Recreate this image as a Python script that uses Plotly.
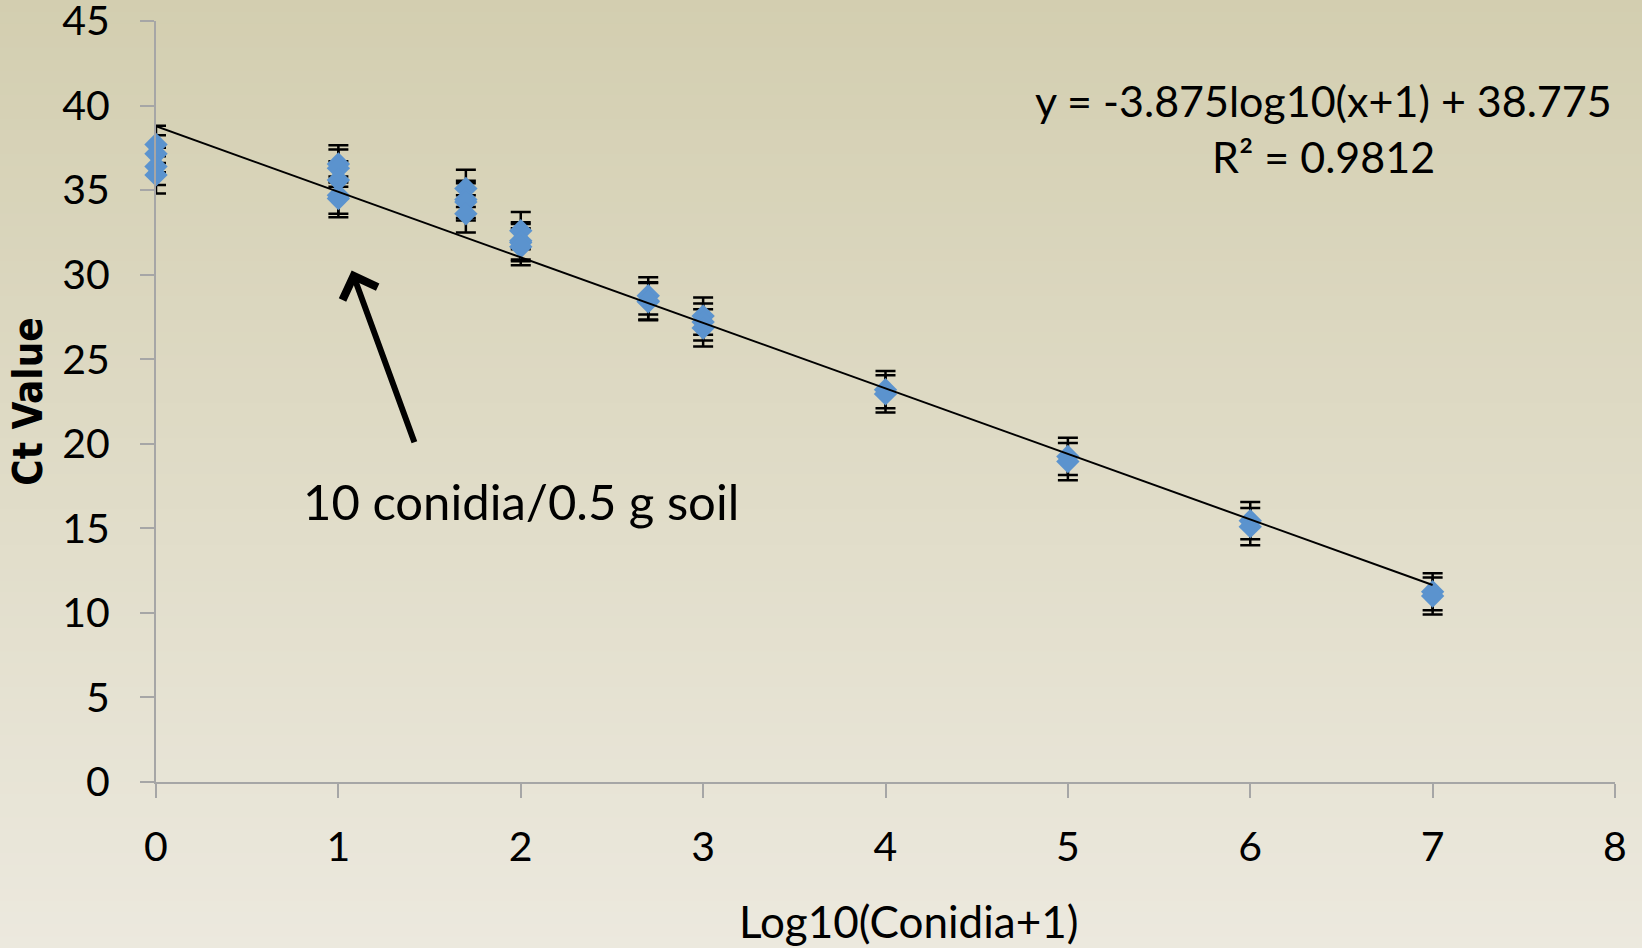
import plotly.graph_objects as go

# ---- data ----
log_conidia = [0, 0, 0, 0,
               1, 1, 1, 1, 1,
               1.699, 1.699, 1.699, 1.699,
               2, 2, 2, 2,
               2.699, 2.699, 2.699,
               3, 3, 3,
               4, 4,
               5, 5,
               6, 6,
               7, 7]
ct_values = [37.7, 37.15, 36.4, 35.9,
             36.55, 36.3, 35.6, 34.7, 34.5,
             35.1, 34.45, 34.3, 33.6,
             32.6, 32.0, 31.9, 31.65,
             28.75, 28.45, 28.4,
             27.55, 27.2, 26.85,
             23.2, 22.95,
             19.25, 18.95,
             15.45, 15.1,
             11.25, 11.0]
ct_error = [1.1] * len(ct_values)

fit_slope = -3.875
fit_intercept = 38.775
fit_x_range = [0, 7]

x_ticks = [0, 1, 2, 3, 4, 5, 6, 7, 8]
y_ticks = [0, 5, 10, 15, 20, 25, 30, 35, 40, 45]

equation_text = "y = -3.875log10(x+1) + 38.775"
r2_text = "R² = 0.9812"
arrow_label = "10 conidia/0.5 g soil"
x_title = "Log10(Conidia+1)"
y_title = "Ct Value"

FONT = "Lato, 'Open Sans', sans-serif"
W, H = 1642, 948
ML, MR, MT, MB = 156, 27, 21, 166

fig = go.Figure()

fig.add_trace(go.Scatter(
    x=log_conidia, y=ct_values, mode="markers",
    marker=dict(symbol="diamond", size=18, color="#5B93CE",
                line=dict(width=0)),
    error_y=dict(type="data", array=ct_error, visible=True,
                 color="black", thickness=2.5, width=10),
    cliponaxis=False,
    showlegend=False,
))

fit_y = [fit_slope * v + fit_intercept for v in fit_x_range]
fig.add_trace(go.Scatter(
    x=fit_x_range, y=fit_y, mode="lines",
    line=dict(color="black", width=2), cliponaxis=False, showlegend=False,
))

# background gradient bands (figure-wide)
top = (211, 206, 176)
bot = (236, 233, 222)
n = 80
shapes = []
plot_h = H - MT - MB
for i in range(n):
    p0 = H * i / n
    p1 = H * (i + 1) / n + 1
    t = (i + 0.5) / n
    c = tuple(round(top[k] + (bot[k] - top[k]) * t) for k in range(3))
    y0 = (H - MB - p0) / plot_h
    y1 = (H - MB - p1) / plot_h
    shapes.append(dict(type="rect", xref="paper", yref="paper",
                       x0=-ML / (W - ML - MR) - 0.01, x1=1 + MR / (W - ML - MR) + 0.01,
                       y0=y1, y1=y0, line=dict(width=0),
                       fillcolor="rgb(%d,%d,%d)" % c, layer="below"))

axis_common = dict(
    showgrid=False, zeroline=False, showline=True, linecolor="#A6A6A6",
    linewidth=2, ticks="outside", ticklen=14, tickwidth=2, tickcolor="#A6A6A6",
    tickfont=dict(family=FONT, size=41, color="black"),
    ticklabeloverflow="allow", automargin=False,
)

fig.update_layout(
    width=W, height=H,
    margin=dict(l=ML, r=MR, t=MT, b=MB, autoexpand=False),
    paper_bgcolor="rgb(224,220,200)",
    plot_bgcolor="rgba(0,0,0,0)",
    shapes=shapes,
    xaxis=dict(range=[0, 8], tickvals=x_ticks, ticklabelstandoff=14,
               **axis_common),
    yaxis=dict(range=[0, 45], tickvals=y_ticks, ticklabelstandoff=22,
               title=dict(text="<b>" + y_title + "</b>", standoff=7,
                          font=dict(family="'Liberation Sans Narrow', 'DejaVu Sans Condensed', sans-serif",
                                    size=40, color="black")),
               **axis_common),
    annotations=[
        dict(x=0.5155, y=0, xref="paper", yref="paper", yanchor="middle",
             yshift=-139, text=x_title, showarrow=False,
             font=dict(family=FONT, size=44, color="black")),
        dict(x=6.40, y=40.3, xref="x", yref="y", text=equation_text, showarrow=False,
             font=dict(family=FONT, size=43, color="black")),
        dict(x=6.40, y=37.0, xref="x", yref="y", text=r2_text, showarrow=False,
             font=dict(family=FONT, size=43, color="black")),
        dict(x=2.0, y=16.6, xref="x", yref="y", text=arrow_label, showarrow=False,
             font=dict(family=FONT, size=49, color="black")),
        dict(x=1.073, y=30.24, xref="x", yref="y", ax=1.42, ay=20.0,
             axref="x", ayref="y", text="", showarrow=True,
             arrowhead=4, arrowsize=1.2, arrowwidth=6, arrowcolor="black", standoff=0),
    ],
)

fig.write_html("out.html", config={"displayModeBar": False},
               post_script="document.body.style.margin='0';")
